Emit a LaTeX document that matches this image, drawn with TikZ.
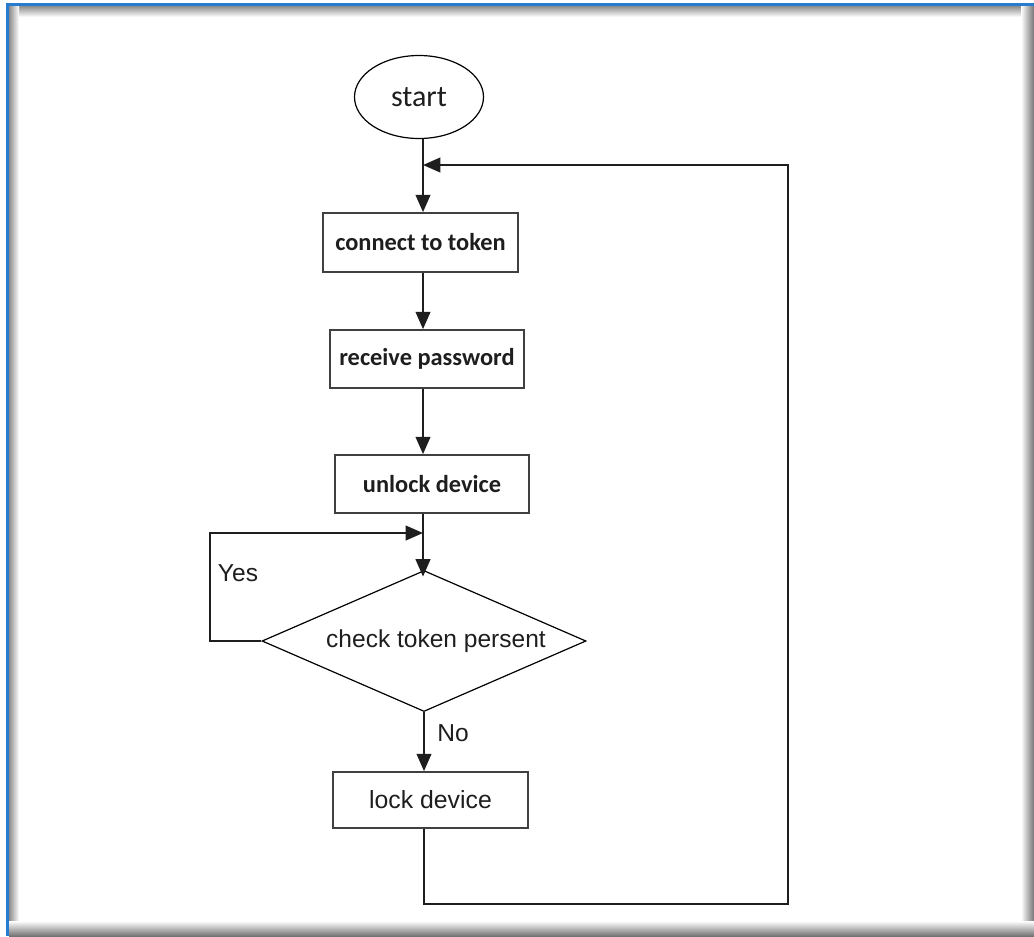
\documentclass[tikz,border=0pt]{standalone}
\usepackage{fontspec}
\usetikzlibrary{shapes.geometric,arrows.meta}
\newfontfamily\calfont{Carlito}
\newfontfamily\arifont{Liberation Sans}
\definecolor{frameblue}{RGB}{38,125,205}
\definecolor{ink}{RGB}{30,30,30}
\tikzset{
  arr/.style={draw=ink, line width=1.5pt, -{Triangle[length=13pt,width=11pt]}},
  procbox/.style={draw=ink!85, line width=1.3pt, rectangle, inner sep=0pt,
    font=\calfont\bfseries\fontsize{18.3}{20}\selectfont, text=ink},
  termnode/.style={draw=black, line width=0.9pt, ellipse, inner sep=0pt,
    minimum width=96.75pt, minimum height=62.25pt,
    font=\calfont\fontsize{22.5}{24}\selectfont, text=ink},
  decnode/.style={draw=black, line width=0.9pt, diamond, inner sep=0pt,
    minimum width=243pt, minimum height=105.75pt},
  arilabel/.style={font=\arifont\fontsize{18.4}{20}\selectfont, text=ink, inner sep=0pt},
  plainbox/.style={draw=ink!85, line width=1.3pt, rectangle, inner sep=0pt,
    font=\arifont\fontsize{18.6}{20}\selectfont, text=ink}
}
\begin{document}
\begin{tikzpicture}[x=0.75pt,y=-0.75pt]
\useasboundingbox (0,0) rectangle (1034,936);
\fill[white] (0,0) rectangle (1034,936);
% window frame: blue top/left edges with soft shadows along every side
\shade[top color=black!45, bottom color=white] (9,6) rectangle (1034,17);
\shade[left color=black!45, right color=white] (9,6) rectangle (19,936);
\shade[left color=white, right color=black!55] (1021,6) rectangle (1034,936);
\shade[top color=white, bottom color=black!55] (9,921) rectangle (1034,936);
\fill[frameblue] (6,3) rectangle (1034,6);
\fill[frameblue] (6,3) rectangle (9,936);

% spine of the flow
\coordinate (sp) at (423,0);

\node[termnode] (start) at (419,97) {start};
\node[procbox, minimum width=146.25pt, minimum height=44.25pt] (conn) at (420.5,242.5) {connect to token};
\node[procbox, minimum width=145.5pt, minimum height=43.5pt] (recv) at (427,359) {receive password};
\node[procbox, minimum width=145.5pt, minimum height=43.5pt] (unl) at (432,484) {unlock device};
\node[decnode, label={[arilabel, xshift=9pt]center:check token persent}] (chk) at (424,641) {};
\node[plainbox, minimum width=146.25pt, minimum height=42pt] (lock) at (430.5,800) {lock device};

\coordinate (j1) at (423,165);
\coordinate (rt) at (788,165);
\coordinate (rb) at (788,904);
\coordinate (yl) at (210,533);
\coordinate (j2) at (423,533);

\draw[arr] (start.south -| sp) -- (conn.north -| sp);
\draw[arr] (conn.south -| sp) -- (recv.north -| sp);
\draw[arr] (recv.south -| sp) -- (unl.north -| sp);
\draw[arr] (unl.south -| sp) -- ([yshift=-5pt]chk.north -| sp);
\draw[arr] (chk.south) -- (lock.north -| chk.south);
\draw[arr] (chk.west) -| (yl) -- (j2);
\draw[arr] (lock.south -| chk.south) |- (rb) -- (rt) -- (j1);

\node[arilabel] (yes) at (238,573) {Yes};
\node[arilabel] (no) at (453,733) {No};
\end{tikzpicture}
\end{document}
